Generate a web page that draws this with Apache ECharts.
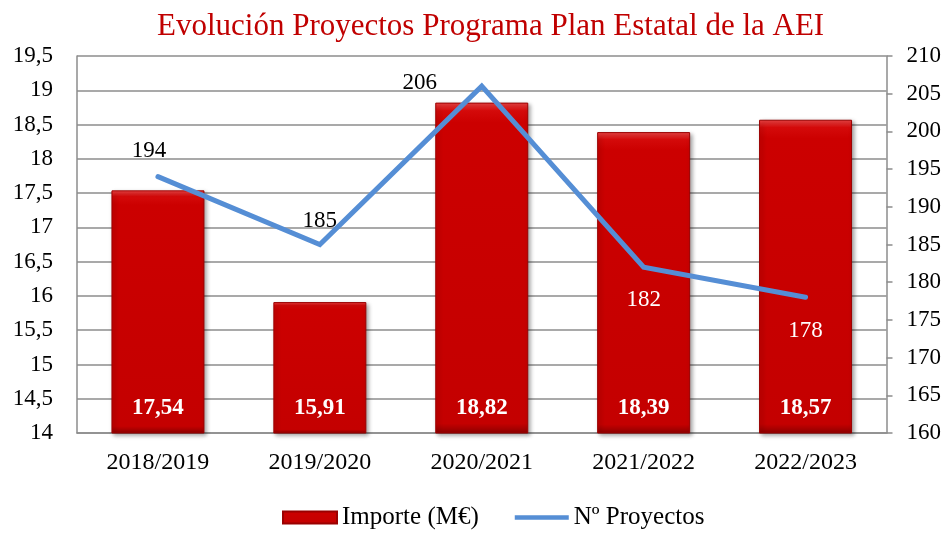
<!DOCTYPE html>
<html>
<head>
<meta charset="utf-8">
<script src="https://cdn.jsdelivr.net/npm/echarts@6/dist/echarts.min.js"></script>
<style>
  html, body { margin: 0; padding: 0; background: #fff; }
  #chart { width: 947px; height: 537px; }
</style>
</head>
<body>
<div id="chart"></div>
<script>
var categories = ['2018/2019', '2019/2020', '2020/2021', '2021/2022', '2022/2023'];
var importe = [17.54, 15.91, 18.82, 18.39, 18.57];
var proyectos = [194, 185, 206, 182, 178];

// where each line label sits relative to its point
var lineLabelOffsets = [[-9, -26], [0, -24], [-62, -3], [0, 33], [0, 34]];
var lineLabelColors = ['#000', '#000', '#000', '#fff', '#fff'];

var serif = '"Liberation Serif", "DejaVu Serif", serif';

function comma(v) {
  return String(v).replace('.', ',');
}

var myChart = echarts.init(document.getElementById('chart'));

var barColor = new echarts.graphic.LinearGradient(0, 0, 0, 1, [
  { offset: 0, color: '#f04545' },
  { offset: 0.025, color: '#d40a0a' },
  { offset: 0.06, color: '#cc0000' },
  { offset: 0.97, color: '#c40000' },
  { offset: 1, color: '#8c0000' }
]);

var lineData = proyectos.map(function (v, i) {
  return {
    value: v,
    label: {
      offset: lineLabelOffsets[i],
      color: lineLabelColors[i]
    }
  };
});

var option = {
  backgroundColor: '#fff',
  textStyle: { fontFamily: serif },
  title: {
    text: 'Evolución Proyectos Programa Plan Estatal de la AEI',
    left: 152,
    top: 6,
    textStyle: {
      fontFamily: serif,
      fontWeight: 'normal',
      fontSize: 31,
      color: '#c00000'
    }
  },
  legend: {
    bottom: 2,
    left: 277,
    itemWidth: 54,
    itemHeight: 12,
    itemGap: 36,
    textStyle: { fontFamily: serif, fontSize: 25, color: '#000' },
    data: [
      { name: 'Importe (M€)', icon: 'rect' },
      { name: 'Nº Proyectos', icon: 'path://M0,0 H57 V5 H0 Z' }
    ]
  },
  grid: {
    left: 77,
    right: 60.5,
    top: 56,
    bottom: 104
  },
  xAxis: {
    type: 'category',
    data: categories,
    axisLine: { lineStyle: { color: '#8c8c8c', width: 1.5 } },
    axisTick: { show: false },
    axisLabel: { color: '#000', fontSize: 24, fontFamily: serif, margin: 18 }
  },
  yAxis: [
    {
      type: 'value',
      min: 14,
      max: 19.5,
      interval: 0.5,
      axisLine: { show: true, lineStyle: { color: '#8c8c8c', width: 1.5 } },
      axisTick: { show: false },
      splitLine: { lineStyle: { color: '#8c8c8c', width: 1.5 } },
      axisLabel: {
        color: '#000',
        fontSize: 23,
        fontFamily: serif,
        margin: 24,
        formatter: comma
      }
    },
    {
      type: 'value',
      min: 160,
      max: 210,
      interval: 5,
      position: 'right',
      axisLine: { show: true, lineStyle: { color: '#8c8c8c', width: 1.5 } },
      axisTick: { show: true, length: 6, lineStyle: { color: '#8c8c8c', width: 1.5 } },
      splitLine: { show: false },
      axisLabel: { color: '#000', fontSize: 23, fontFamily: serif, margin: 20 }
    }
  ],
  series: [
    {
      name: 'Importe (M€)',
      type: 'bar',
      yAxisIndex: 0,
      barWidth: 93,
      data: importe,
      itemStyle: {
        color: barColor,
        borderColor: '#9a0000',
        borderWidth: 1,
        shadowColor: 'rgba(0,0,0,0.35)',
        shadowBlur: 4,
        shadowOffsetX: 2,
        shadowOffsetY: 2
      },
      label: {
        show: true,
        position: 'insideBottom',
        distance: 14,
        color: '#fff',
        fontWeight: 'bold',
        fontSize: 23,
        fontFamily: serif,
        formatter: function (p) {
          return p.value.toFixed(2).replace('.', ',');
        }
      }
    },
    {
      name: 'Nº Proyectos',
      type: 'line',
      yAxisIndex: 1,
      data: lineData,
      symbol: 'circle',
      symbolSize: 1,
      z: 5,
      itemStyle: { color: '#558ed5' },
      lineStyle: { color: '#558ed5', width: 5, cap: 'round', join: 'miter' },
      label: {
        show: true,
        position: 'inside',
        fontSize: 23,
        fontFamily: serif
      }
    }
  ]
};
myChart.setOption(option);
</script>
</body>
</html>
